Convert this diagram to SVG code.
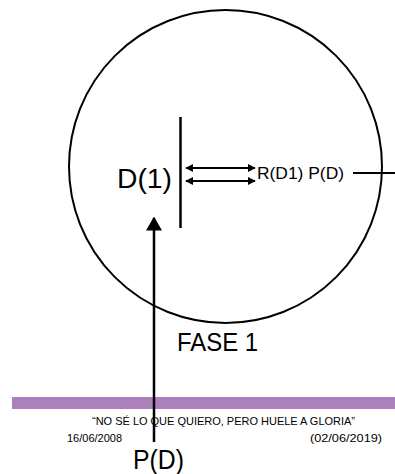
<svg xmlns="http://www.w3.org/2000/svg" width="395" height="474" viewBox="0 0 395 474">
<defs>
<style>
.t{font-family:"Liberation Sans",Arial,sans-serif;fill:#000}
.ln{stroke:#000;fill:none}
</style>
<marker id="ah" viewBox="0 0 10 10" refX="9" refY="5" markerWidth="8" markerHeight="8" markerUnits="userSpaceOnUse" orient="auto-start-reverse">
<path d="M0,0 L10,5 L0,10 z" fill="#000"/>
</marker>
<marker id="big" viewBox="0 0 10 10" refX="9" refY="5" markerWidth="14" markerHeight="16" markerUnits="userSpaceOnUse" orient="auto" preserveAspectRatio="none">
<path d="M0,0 L10,5 L0,10 z" fill="#000"/>
</marker>
</defs>
<rect width="395" height="474" fill="#fff"/>
<g id="circle"><circle cx="225.5" cy="166.5" r="156.5" class="ln" stroke-width="2"/></g>
<g id="barrier"><line x1="180.5" y1="117" x2="180.5" y2="228" class="ln" stroke-width="2.5"/></g>
<g id="d1"><text class="t" x="117" y="188" font-size="27" textLength="55" lengthAdjust="spacingAndGlyphs">D(1)</text></g>
<g id="rd1"><text class="t" x="257" y="179" font-size="17" textLength="87" lengthAdjust="spacingAndGlyphs">R(D1) P(D)</text></g>
<g id="fase"><text class="t" x="177" y="351" font-size="25" textLength="81" lengthAdjust="spacingAndGlyphs">FASE 1</text></g>
<g id="band"><rect x="12" y="397" width="383" height="12" fill="#ab80bd"/></g>
<g id="quote"><text class="t" x="92" y="425" font-size="11" textLength="263" lengthAdjust="spacingAndGlyphs">“NO SÉ LO QUE QUIERO, PERO HUELE A GLORIA”</text></g>
<g id="d1date"><text class="t" x="67" y="442" font-size="11">16/06/2008</text></g>
<g id="d2date"><text class="t" x="310" y="442" font-size="11" textLength="72" lengthAdjust="spacingAndGlyphs">(02/06/2019)</text></g>
<g id="pd"><text class="t" x="133" y="469" font-size="27" textLength="51" lengthAdjust="spacingAndGlyphs">P(D)</text></g>
<g id="connectors">
<line x1="186" y1="168" x2="255" y2="168" class="ln" stroke-width="1.8" marker-start="url(#ah)" marker-end="url(#ah)"/>
<line x1="186" y1="181" x2="255" y2="181" class="ln" stroke-width="1.8" marker-start="url(#ah)" marker-end="url(#ah)"/>
<line x1="353" y1="173" x2="395" y2="173" class="ln" stroke-width="2.2"/>
<line x1="154" y1="442" x2="154" y2="218" class="ln" stroke-width="2.5" marker-end="url(#big)"/>
</g>
</svg>
